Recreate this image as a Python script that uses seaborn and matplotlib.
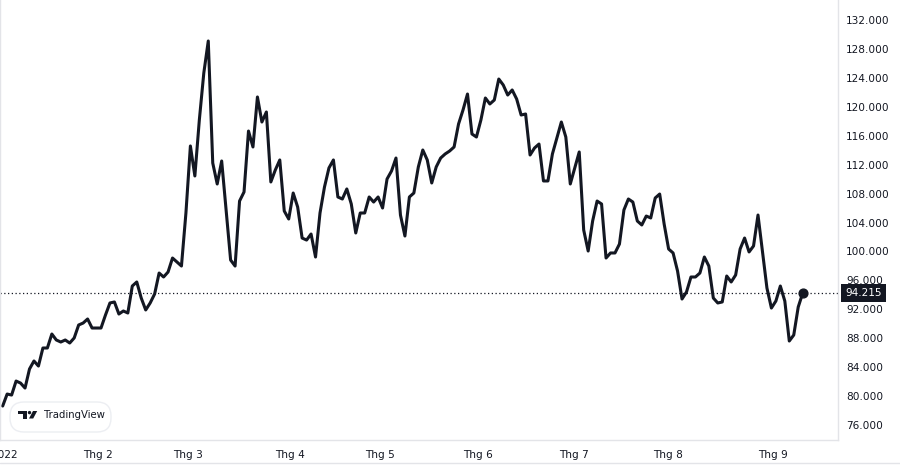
import numpy as np
import pandas as pd
import seaborn as sns
import matplotlib.pyplot as plt
from matplotlib.patches import FancyBboxPatch, Polygon, Circle
from matplotlib.transforms import blended_transform_factory, IdentityTransform

# daily closing prices (thousand VND)
prices = [
    78.57, 80.23, 80.09, 82.03, 81.75, 81.06, 83.70, 84.81, 84.11, 86.61,
    86.61, 88.55, 87.72, 87.44, 87.72, 87.30, 88.00, 89.80, 90.07, 90.63,
    89.38, 89.38, 89.38, 91.18, 92.85, 92.99, 91.32, 91.74, 91.46, 95.20,
    95.76, 93.54, 91.88, 92.85, 94.10, 97.00, 96.45, 97.14, 99.08, 98.53,
    97.97, 105.32, 114.61, 110.45, 118.21, 124.72, 129.16, 112.25, 109.34, 112.53,
    105.74, 98.80, 97.97, 106.98, 108.23, 116.68, 114.47, 121.40, 117.93, 119.32,
    109.62, 111.28, 112.67, 105.60, 104.49, 108.09, 106.15,
    101.85, 101.57, 102.41, 99.22, 105.32, 108.92, 111.56, 112.67, 107.54, 107.26,
    108.65, 106.57, 102.55, 105.32, 105.32, 107.54, 106.84, 107.54, 106.01, 110.03,
    111.14, 112.94, 105.04, 102.13, 107.54, 108.09, 111.70, 114.05, 112.67, 109.48,
    111.70, 112.94, 113.50, 113.91, 114.47, 117.66, 119.60, 121.81, 116.27, 115.85,
    118.21, 121.26, 120.43, 120.98, 123.89, 123.06, 121.67, 122.37, 121.12, 118.90,
    119.04, 113.36, 114.33, 114.88, 109.76, 109.76, 113.50, 115.71, 117.93, 115.85,
    109.34, 111.56, 113.78, 102.96, 100.05, 104.21,
    106.98, 106.57, 99.08, 99.78, 99.78, 101.02, 105.74, 107.26, 106.84, 104.21,
    103.66, 104.90, 104.63, 107.40, 107.95, 103.79, 100.33, 99.78, 97.28, 93.40,
    94.37, 96.45, 96.45, 97.00, 99.22, 97.97, 93.54, 92.85, 92.99, 96.59,
    95.76, 96.73, 100.33, 101.85, 99.92, 100.75, 105.04, 99.92, 94.92, 92.15,
    93.12, 95.20, 93.12, 87.58, 88.41, 92.29, 94.215,
]
last_price = 94.215

# month labels and the bar index where each month starts
month_labels = ["2022", "Thg 2", "Thg 3", "Thg 4", "Thg 5", "Thg 6", "Thg 7", "Thg 8", "Thg 9"]
month_pos = [0.5, 21.3, 41.5, 64.3, 84.4, 106.3, 127.8, 148.8, 172.3]

y_ticks = list(range(76, 133, 4))

df = pd.DataFrame({"bar": np.arange(len(prices)), "price": prices})

sns.set_style("white")
plt.rcParams["font.family"] = ["DejaVu Sans"]

W, H = 900, 467
fig = plt.figure(figsize=(W / 100, H / 100), dpi=100)
ax = fig.add_axes([0, 1 - 440 / H, 838 / W, 440 / H])

line_col = "#131722"
grid_col = "#e3e4e8"

sns.lineplot(data=df, x="bar", y="price", ax=ax, color=line_col, linewidth=2.2)
ax.scatter([df["bar"].iloc[-1]], [last_price], s=40, color=line_col, zorder=5)
ax.axhline(last_price, color=line_col, linestyle=(0, (1, 2)), linewidth=0.9)

ax.set_xlim(-0.6, 186.9)
ax.set_ylim(73.86, 134.84)

ax.yaxis.tick_right()
ax.set_yticks(y_ticks)
ax.set_yticklabels([f"{v}.000" for v in y_ticks])
ax.set_xticks(month_pos)
ax.set_xticklabels(month_labels)
ax.tick_params(axis="y", length=0, pad=6, labelsize=7.6, labelcolor="#131722")
ax.tick_params(axis="x", length=0, pad=7, labelsize=7.6, labelcolor="#131722")
ax.set_xlabel("")
ax.set_ylabel("")

ax.spines["top"].set_visible(False)
for s in ["right", "bottom", "left"]:
    ax.spines[s].set_color(grid_col)
    ax.spines[s].set_linewidth(1)

# last price label on the right scale
trans = blended_transform_factory(ax.transAxes, ax.transData)
ax.text(1.0085, last_price, "94.215", transform=trans, ha="left", va="center",
        fontsize=7.6, color="white", clip_on=False, zorder=10,
        bbox=dict(boxstyle="square,pad=0.38", facecolor="#131722", edgecolor="none"))

# bottom rule under the time scale
fig.add_artist(plt.Line2D([0, 1], [1 - 463 / H, 1 - 463 / H], transform=fig.transFigure,
                          color=grid_col, linewidth=1))

# TradingView badge, drawn in pixel coordinates (origin bottom-left)
px = IdentityTransform()
fig.add_artist(FancyBboxPatch((10, H - 432), 101, 30,
                              boxstyle="round,pad=0,rounding_size=14",
                              transform=px, facecolor="white",
                              edgecolor="#eceef2", linewidth=1))
# logo: T bar, dot, slanted bar
fig.add_artist(Polygon([(18.3, H - 411), (27.2, H - 411), (27.2, H - 418.5),
                        (23.2, H - 418.5), (23.2, H - 414), (18.3, H - 414)],
                       closed=True, transform=px, facecolor=line_col, edgecolor="none"))
fig.add_artist(Circle((29.5, H - 412.6), 1.7, transform=px,
                      facecolor=line_col, edgecolor="none"))
fig.add_artist(Polygon([(33, H - 411), (37.2, H - 411), (33.2, H - 418.5), (29, H - 418.5)],
                       closed=True, transform=px, facecolor=line_col, edgecolor="none"))
fig.text(43.5 / W, 1 - 415.5 / H, "TradingView", fontsize=7.3,
         color=line_col, va="center", ha="left")

fig.savefig("out.png", dpi=100)
